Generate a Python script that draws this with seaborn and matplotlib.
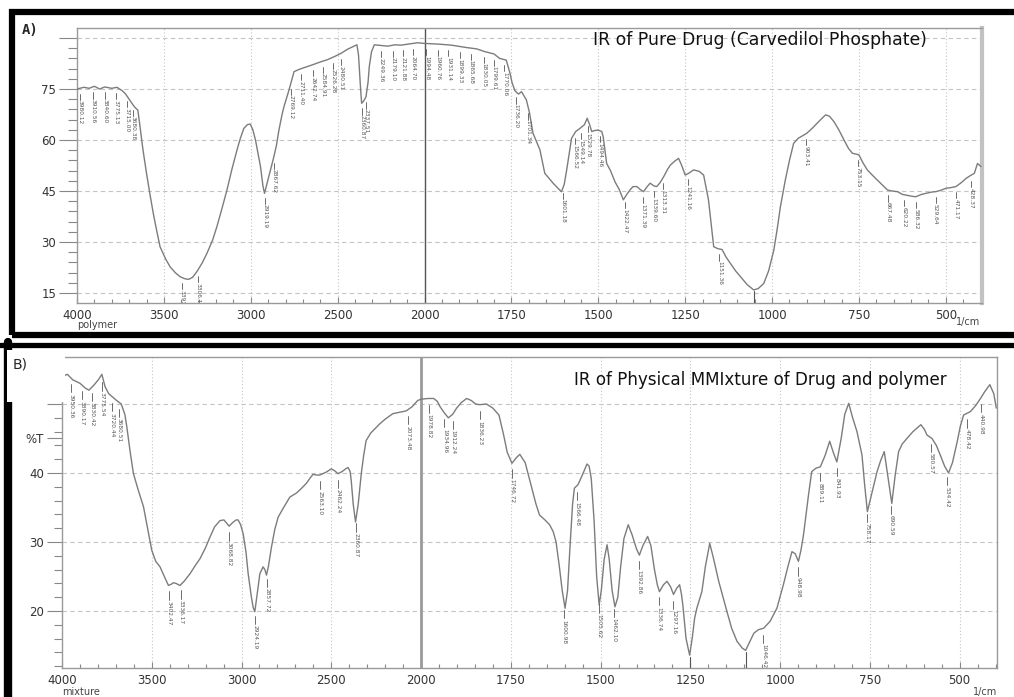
import numpy as np
import matplotlib
matplotlib.use("Agg")
import matplotlib.pyplot as plt
import seaborn as sns
from matplotlib.ticker import FixedLocator, FixedFormatter
from matplotlib.patches import Rectangle
from matplotlib.lines import Line2D

sns.set_style("ticks")
plt.rcParams['font.family'] = ['DejaVu Sans']

# ---------------- data: panel A (pure drug) ----------------
wn_a = [4000, 3960, 3930, 3900, 3870, 3840, 3800, 3770, 3740, 3720, 3700, 3680, 3665, 3650,
        3640, 3620, 3600, 3580, 3561, 3540, 3522, 3490, 3464, 3435, 3407, 3380, 3358, 3335,
        3310, 3280, 3252, 3220, 3195, 3165, 3137, 3108, 3079, 3060, 3040, 3020, 3003, 2988,
        2973, 2958, 2944, 2930, 2921, 2910, 2896, 2880, 2867, 2852, 2838, 2820, 2809, 2790,
        2780, 2765, 2751, 2720, 2674, 2640, 2597, 2560, 2520, 2480, 2443, 2410, 2389, 2380,
        2376, 2368, 2362, 2350, 2337, 2325, 2318, 2305, 2289, 2250, 2212, 2170, 2135, 2080,
        2040, 2000, 1960, 1923, 1880, 1850, 1827, 1800, 1784, 1765, 1755, 1748, 1740, 1730,
        1721, 1707, 1698, 1688, 1668, 1654, 1640, 1630, 1618, 1606, 1598, 1591, 1577, 1565,
        1553, 1540, 1532, 1525, 1519, 1510, 1500, 1490, 1486, 1476, 1465, 1452, 1440, 1428,
        1418, 1409, 1400, 1389, 1380, 1370, 1360, 1351, 1340, 1332, 1322, 1312, 1300, 1293,
        1280, 1269, 1260, 1250, 1240, 1226, 1210, 1197, 1190, 1183, 1175, 1168, 1155, 1144,
        1132, 1120, 1105, 1091, 1072, 1053, 1040, 1024, 1010, 995, 985, 976, 962, 950, 938,
        925, 913, 900, 885, 865, 846, 835, 822, 808, 793, 780, 769, 756, 750, 738, 726, 710,
        697, 680, 668, 655, 639, 625, 615, 600, 587, 570, 558, 540, 529, 515, 500, 485, 471,
        455, 442, 430, 418, 409, 399]
t_a = [75.0, 75.5, 75.2, 75.8, 75.0, 75.6, 75.2, 75.5, 74.5, 73.5, 72.0, 70.5, 69.5, 68.8,
       65.0, 57.0, 50.2, 44.0, 38.4, 33.0, 28.6, 25.0, 22.7, 21.0, 19.8, 19.2, 19.0, 19.6,
       21.3, 23.8, 26.7, 30.5, 34.5, 40.0, 45.3, 51.5, 57.1, 60.5, 63.4, 64.5, 64.7, 63.0,
       60.0, 56.0, 52.2, 46.5, 44.3, 46.5, 49.2, 52.5, 55.1, 58.5, 62.9, 67.5, 69.8, 73.0,
       74.7, 77.5, 80.1, 80.8, 81.6, 82.2, 83.0, 83.6, 84.5, 85.5, 86.7, 87.5, 88.0, 85.0,
       81.6, 75.0, 70.8, 71.5, 72.7, 77.0, 81.6, 86.0, 88.0, 87.8, 87.6, 88.0, 87.9, 88.3,
       88.6, 88.4, 88.2, 87.9, 87.2, 86.8, 86.0, 85.3, 84.0, 83.5, 80.0, 76.8, 74.5, 73.5,
       74.2, 71.8, 68.0, 62.0, 57.1, 50.2, 48.5, 47.3, 46.0, 44.8, 47.0, 51.2, 60.5, 62.5,
       63.4, 64.5, 66.4, 64.5, 62.5, 62.8, 62.9, 62.5, 61.0, 53.1, 51.0, 47.7, 45.5, 42.4,
       44.0, 45.3, 46.3, 46.3, 45.5, 44.8, 46.2, 47.3, 46.5, 46.3, 47.5, 49.2, 51.5, 52.6,
       53.8, 54.6, 52.5, 49.7, 50.2, 51.2, 50.8, 49.7, 46.0, 42.4, 35.0, 28.6, 28.0, 27.8,
       25.5, 23.7, 21.5, 19.8, 17.5, 15.9, 16.3, 17.8, 21.5, 27.6, 34.0, 40.4, 48.2, 54.0,
       59.0, 60.5, 61.2, 62.0, 63.4, 65.5, 67.4, 67.0, 65.4, 63.0, 60.0, 57.5, 56.1, 55.8,
       55.6, 53.2, 51.2, 49.5, 48.2, 46.5, 45.3, 45.0, 44.8, 44.0, 43.8, 43.5, 43.3, 44.0,
       44.3, 44.7, 44.8, 45.2, 45.8, 46.0, 46.3, 47.5, 48.7, 49.5, 50.2, 53.1, 52.2]

peaks_a = ["3980.12", "3910.56", "3840.60", "3775.13", "3715.00", "3680.38",
           "3393.90", "3306.12", "2919.19", "2867.62",
           "2769.12", "2711.40", "2642.74", "2584.91", "2526.28", "2480.51",
           "2360.87", "2337.51",
           "2249.36", "2179.10", "2121.88", "2064.70", "1994.48", "1960.76", "1931.14",
           "1899.33", "1865.68", "1830.05", "1799.61", "1770.06", "1736.20",
           "1701.34", "1601.18", "1566.52", "1549.14", "1529.78", "1494.46",
           "1422.47", "1371.39", "1339.60", "1313.31", "1241.16", "1151.36",
           "903.41", "753.15", "667.48", "620.22", "586.32", "529.64", "471.17", "428.37"]
drops_a = [1052]

# ---------------- data: panel B (physical mixture) ----------------
wn_b = [4000, 3970, 3940, 3900, 3870, 3850, 3820, 3795, 3778, 3760, 3740, 3700, 3670, 3650,
        3639, 3620, 3602, 3575, 3546, 3520, 3500, 3478, 3454, 3430, 3407, 3390, 3380, 3365,
        3343, 3320, 3287, 3260, 3231, 3200, 3176, 3150, 3120, 3098, 3085, 3069, 3050, 3030,
        3019, 3005, 2991, 2975, 2963, 2945, 2935, 2926, 2915, 2905, 2898, 2880, 2870, 2861,
        2850, 2833, 2815, 2796, 2770, 2731, 2694, 2665, 2639, 2620, 2602, 2580, 2565, 2530,
        2500, 2480, 2463, 2440, 2420, 2407, 2395, 2389, 2378, 2365, 2350, 2333, 2320, 2306,
        2280, 2250, 2231, 2200, 2157, 2120, 2083, 2050, 2019, 2000, 1979, 1965, 1955, 1947,
        1935, 1924, 1912, 1901, 1888, 1873, 1860, 1848, 1837, 1818, 1800, 1790, 1783, 1770,
        1760, 1747, 1735, 1725, 1710, 1695, 1680, 1670, 1655, 1642, 1632, 1624, 1615, 1607,
        1599, 1592, 1585, 1578, 1573, 1563, 1550, 1538, 1532, 1526, 1518, 1511, 1504, 1498,
        1490, 1482, 1476, 1468, 1460, 1452, 1444, 1435, 1423, 1412, 1400, 1392, 1382, 1369,
        1360, 1350, 1342, 1336, 1325, 1315, 1305, 1297, 1288, 1280, 1275, 1271, 1262, 1252,
        1245, 1238, 1232, 1218, 1208, 1196, 1185, 1171, 1160, 1148, 1135, 1120, 1105, 1096,
        1085, 1073, 1060, 1046, 1028, 1009, 991, 978, 967, 958, 949, 942, 935, 921, 912, 900,
        888, 875, 862, 852, 842, 830, 820, 809, 798, 786, 772, 765, 757, 745, 730, 720, 710,
        700, 689, 680, 670, 660, 647, 630, 608, 598, 591, 577, 565, 554, 542, 531, 520, 507,
        498, 489, 470, 455, 442, 430, 416, 405, 398]
t_b = [54.0, 54.3, 53.5, 53.0, 52.3, 52.0, 52.8, 53.6, 54.3, 52.5, 51.5, 50.6, 50.0, 48.5,
       46.7, 43.0, 39.9, 37.5, 35.1, 31.5, 28.8, 27.2, 26.4, 25.0, 23.7, 23.9, 24.1, 24.0,
       23.7, 24.3, 25.4, 26.5, 27.6, 29.2, 30.7, 32.2, 33.1, 33.2, 32.8, 32.3, 32.8, 33.2,
       33.2, 32.5, 31.2, 28.5, 25.4, 22.0, 20.5, 19.9, 22.0, 24.0, 25.4, 26.4, 26.0, 25.2,
       26.5, 29.3, 31.8, 33.6, 34.8, 36.5, 37.1, 37.8, 38.5, 39.2, 39.8, 39.7, 39.7, 40.1,
       40.6, 40.3, 39.9, 40.2, 40.6, 40.8, 40.2, 38.9, 35.5, 32.9, 35.5, 39.9, 42.5, 44.7,
       45.8, 46.6, 47.1, 47.8, 48.6, 48.8, 49.0, 49.6, 50.5, 50.7, 50.8, 50.8, 50.4, 49.6,
       48.7, 48.0, 48.5, 49.4, 50.2, 50.8, 50.5, 50.0, 49.9, 50.0, 49.4, 48.8, 48.4, 45.5,
       43.0, 41.4, 42.2, 42.7, 41.5, 38.5, 35.5, 33.9, 33.2, 32.5, 31.5, 30.0, 26.5, 23.0,
       20.4, 23.0, 29.5, 35.5, 37.8, 38.3, 39.8, 41.3, 41.0, 39.2, 33.0, 25.0, 20.9, 23.0,
       27.5, 29.6, 27.5, 23.0, 20.6, 22.0, 26.5, 30.5, 32.5, 31.0, 29.0, 28.1, 29.5, 30.8,
       29.5, 26.0, 23.8, 22.8, 23.8, 24.3, 23.5, 22.4, 23.3, 23.8, 22.5, 20.9, 16.0, 13.6,
       16.0, 19.0, 20.4, 22.8, 26.5, 29.8, 27.5, 24.3, 22.2, 19.9, 17.5, 15.6, 14.6, 14.3,
       15.5, 16.8, 17.3, 17.5, 18.5, 20.4, 23.8, 26.5, 28.6, 28.3, 27.2, 28.8, 31.0, 36.8,
       40.2, 40.7, 40.9, 42.5, 44.6, 43.0, 41.6, 45.0, 48.5, 50.1, 48.0, 46.0, 42.6, 38.5,
       34.4, 37.0, 40.2, 41.8, 43.1, 39.5, 35.6, 39.5, 43.1, 44.2, 45.0, 46.0, 47.0, 46.3,
       45.5, 45.0, 44.0, 42.6, 41.0, 40.0, 41.5, 44.5, 46.8, 48.4, 48.9, 49.8, 50.8, 51.8,
       52.8, 51.5, 49.4]

peaks_b = ["3950.36", "3890.17", "3830.42", "3775.54", "3720.44", "3680.51",
           "3402.47", "3336.17", "3068.82", "2924.19", "2857.72", "2563.10", "2462.24",
           "2360.87", "2073.48", "1978.82", "1934.96", "1912.24", "1836.23", "1746.72",
           "1600.98", "1566.48", "1505.62", "1462.10", "1392.86", "1336.74", "1297.16",
           "1046.42", "948.98", "889.11", "841.93", "758.17", "690.59", "580.57",
           "534.42", "478.42", "440.98"]
drops_b = [1252, 1096]

x_major = [4000, 3500, 3000, 2500, 2000, 1750, 1500, 1250, 1000, 750, 500]
x_minor = [v for v in list(range(3900, 2000, -100)) + list(range(1950, 399, -50)) if v not in x_major]

# ---------------- figure ----------------
W, H = 1014, 697
fig = plt.figure(figsize=(W / 100, H / 100), dpi=100)


def fx(x):
    return x / W


def fy(y):
    return 1 - y / H


def fwd(x):
    x = np.asarray(x, dtype=float)
    return np.where(x > 2000, 2000 + (x - 2000) / 2.0, x)


def inv(y):
    y = np.asarray(y, dtype=float)
    return np.where(y > 2000, 2000 + (y - 2000) * 2.0, y)


axA = fig.add_axes([fx(77), fy(303), (982 - 77) / W, (303 - 28) / H])
axB = fig.add_axes([fx(62), fy(668), (997 - 62) / W, (668 - 357) / H])

line_col = '#7c7c7c'
lab_col = '#555555'


def setup(ax, wn, t, ylim, ymaj, ylabels, ymin, peaks, drops, gap, leng, ytick_len, vline_kw):
    sns.lineplot(x=wn, y=t, ax=ax, color=line_col, linewidth=1.0,
                 estimator=None, sort=False, zorder=3)
    ax.set_xscale('function', functions=(fwd, inv))
    ax.set_xlim(4000, 396)
    ax.set_ylim(*ylim)
    ax.set_xlabel('')
    ax.set_ylabel('')
    ax.xaxis.set_major_locator(FixedLocator(x_major))
    ax.xaxis.set_major_formatter(FixedFormatter([str(v) for v in x_major]))
    ax.xaxis.set_minor_locator(FixedLocator(x_minor))
    ax.yaxis.set_major_locator(FixedLocator(ymaj))
    ax.yaxis.set_major_formatter(FixedFormatter(ylabels))
    ax.yaxis.set_minor_locator(FixedLocator(ymin))
    ax.tick_params(axis='x', which='major', direction='in', length=4, width=0.8,
                   color='#888888', labelsize=8.5, labelcolor='#333333', pad=4,
                   bottom=True, top=False)
    ax.tick_params(axis='x', which='minor', direction='in', length=3, width=0.8,
                   color='#888888', bottom=True, top=False)
    ax.tick_params(axis='y', which='major', direction='out', length=ytick_len, width=0.8,
                   color='#888888', labelsize=8.5, labelcolor='#333333', pad=2,
                   left=True, right=False)
    ax.tick_params(axis='y', which='minor', direction='out', length=ytick_len / 2, width=0.8,
                   color='#888888', left=True, right=False)
    ax.xaxis.grid(True, which='major', color='#c4c4c4', linestyle=(0, (1, 2)), linewidth=0.8)
    ax.yaxis.grid(True, which='major', color='#c4c4c4', linestyle=(0, (4, 3)), linewidth=0.8)
    ax.set_axisbelow(True)
    ax.axvline(2000, zorder=2, **vline_kw)
    for s in ax.spines.values():
        s.set_color('#9a9a9a')
        s.set_linewidth(1.0)
    wn_r = np.asarray(wn, float)[::-1]
    t_r = np.asarray(t, float)[::-1]
    for s in peaks:
        p = float(s)
        yc = np.interp(p, wn_r, t_r)
        ax.plot([p, p], [yc - gap, yc - gap - leng], color=lab_col, lw=0.6, zorder=4)
        ax.text(p, yc - gap - leng - 0.2, s, rotation=270, ha='center', va='top',
                fontsize=4.2, color=lab_col, clip_on=True, zorder=4)
    for p in drops:
        yc = np.interp(p, wn_r, t_r)
        ax.plot([p, p], [yc - 0.3, ylim[0]], color=lab_col, lw=0.8, zorder=4)


setup(axA, wn_a, t_a, (12.06, 92.94), [15, 30, 45, 60, 75, 90],
      ['15', '30', '45', '60', '75', ''], list(np.arange(12, 93, 3)),
      peaks_a, drops_a, 1.6, 1.8, 13,
      dict(color='#555555', lw=1.0))
axA.spines['right'].set_color('#c2c2c2')
axA.spines['right'].set_linewidth(3)

setup(axB, wn_b, t_b, (11.74, 56.81), [20, 30, 40, 45, 50],
      ['20', '30', '40', '%T', ''], list(np.arange(12, 57, 2)),
      peaks_b, drops_b, 0.9, 1.2, 11,
      dict(color='#9a9a9a', lw=2.0))
# %T is a label, not a gridline: remove the extra grid at 45
for gl, v in zip(axB.yaxis.get_gridlines(), [20, 30, 40, 45, 50]):
    if v == 45:
        gl.set_visible(False)

# ---------------- texts ----------------
fig.text(fx(593), fy(40), "IR of Pure Drug (Carvedilol Phosphate)", fontsize=12.4,
         ha='left', va='center', color='#111111')
fig.text(fx(574), fy(380), "IR of Physical MMIxture of Drug and polymer", fontsize=12.1,
         ha='left', va='center', color='#111111')
fig.text(fx(77), fy(325), "polymer", fontsize=7, ha='left', va='center', color='#444444')
fig.text(fx(62), fy(692), "mixture", fontsize=7, ha='left', va='center', color='#444444')
fig.text(fx(980), fy(322), "1/cm", fontsize=7, ha='right', va='center', color='#444444')
fig.text(fx(997), fy(692), "1/cm", fontsize=7, ha='right', va='center', color='#444444')

# ---------------- panel frames ----------------
fig.add_artist(Rectangle((fx(12), fy(334.5)), (1030 - 12) / W, (334.5 - 11.5) / H,
                         transform=fig.transFigure, fill=False, ec='black', lw=4.5, zorder=6))
fig.add_artist(Line2D([0, 1], [fy(344.5), fy(344.5)], transform=fig.transFigure,
                      color='black', lw=3.8, zorder=6))
fig.add_artist(Line2D([fx(7.5), fx(7.5)], [fy(342), -0.01], transform=fig.transFigure,
                      color='black', lw=6, zorder=6))
fig.add_artist(Rectangle((fx(7), fy(402)), (65 - 7) / W, (402 - 350) / H,
                         transform=fig.transFigure, fc='white', ec='none', zorder=7))
fig.text(fx(22), fy(30), "A)", fontsize=10, fontweight='bold', family='DejaVu Sans Mono',
         ha='left', va='center', zorder=8)
fig.text(fx(13), fy(365), "B)", fontsize=10, ha='left', va='center', zorder=8)

fig.savefig("out.png", dpi=100)
